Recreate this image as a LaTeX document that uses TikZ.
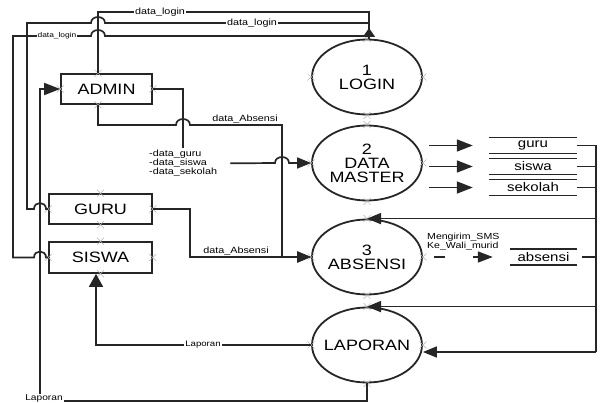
\documentclass[tikz,border=0pt]{standalone}
\usepackage{fontspec}
\newfontfamily\dfont[FakeStretch=1.2]{Liberation Sans}
\usetikzlibrary{shapes.geometric,arrows.meta}
\begin{document}
\begin{tikzpicture}[x=1pt,y=-1pt,
  proc/.style={ellipse,draw=black!85,line width=1.8pt,minimum width=110pt,minimum height=75pt,inner xsep=-10pt,inner ysep=0pt,align=center,font=\dfont\fontsize{15}{14}\selectfont},
  ent/.style={rectangle,draw=black!85,line width=1.7pt,minimum width=103pt,minimum height=30pt,inner sep=0pt,font=\dfont\fontsize{15}{15}\selectfont},
  store/.style={minimum width=88pt,minimum height=16pt,inner sep=0pt,font=\dfont\fontsize{12.5}{12.5}\selectfont},
  lbl/.style={fill=white,inner sep=1pt,font=\dfont\fontsize{9}{9}\selectfont},
  ln/.style={line width=1.7pt,draw=black!85},
  flow/.style={ln,-{Triangle[length=14pt,width=11pt]}},
  xm/.style={gray!60,line width=0.5pt},
]
\useasboundingbox (0,0) rectangle (602,403);

% processes
\node[proc] (LOGIN) at (367,77) {1\\LOGIN};
\node[proc] (DM) at (367,163) {2\\DATA\\MASTER};
\node[proc] (ABS) at (367,257) {3\\ABSENSI};
\node[proc] (LAP) at (367,345) {LAPORAN};

% entities
\node[ent,minimum width=91pt] (ADMIN) at (106.5,89) {ADMIN};
\node[ent] (GURU) at (100.5,209) {GURU};
\node[ent,minimum height=31pt] (SISWA) at (100.5,257.5) {SISWA};

% data stores
\node[store] (sguru) at (533,145.5) {guru};
\node[store] (ssiswa) at (533,166.5) {siswa};
\node[store] (ssek) at (533,187.5) {sekolah};
\node[store,minimum width=67pt] (sabs) at (543.5,257) {absensi};
\foreach \s in {sguru,ssiswa,ssek,sabs}
  \draw[line width=1.5pt,draw=black!85] (\s.north west) -- (\s.north east) (\s.south west) -- (\s.south east);

% connection marks
\foreach \p in {LOGIN.north,LOGIN.south,LOGIN.east,LOGIN.west,
                DM.north,DM.south,DM.east,DM.west,
                ABS.north,ABS.south,ABS.east,ABS.west,
                LAP.north,LAP.south,LAP.east,LAP.west,
                GURU.north,GURU.south,GURU.east,GURU.west,
                SISWA.north,SISWA.south,SISWA.east,SISWA.west,
                ADMIN.east,ADMIN.west}
  \draw[xm] (\p) +(-3.5,-3.5) -- +(3.5,3.5) +(-3.5,3.5) -- +(3.5,-3.5);
\draw[xm] ([xshift=-8.5pt]ADMIN.north) +(-3.5,-3.5) -- +(3.5,3.5) +(-3.5,3.5) -- +(3.5,-3.5);
\draw[xm] ([xshift=-8.5pt]ADMIN.south) +(-3.5,-3.5) -- +(3.5,3.5) +(-3.5,3.5) -- +(3.5,-3.5);

% data_login flows to LOGIN
\draw[ln] ([xshift=-8.5pt]ADMIN.north) -- (98,12) -- (369,12) -- ([xshift=2pt]LOGIN.north);
\node[lbl] at (160,12) {data\_login};
\draw[ln] (GURU.west) -- (46,209) .. controls (46,201) and (34,201) .. (34,209) -- (27,209) -- (27,23)
  -- (91,23) .. controls (91,15) and (105,15) .. (105,23) -- (369,23);
\node[lbl] at (252,23) {data\_login};
\draw[ln] (SISWA.west) -- (46,257.5) .. controls (46,249.5) and (34,249.5) .. (34,257.5) -- (13,257.5) -- (13,36)
  -- (91,36) .. controls (91,28) and (105,28) .. (105,36) -- (369,36);
\node[lbl,font=\dfont\fontsize{7}{7}\selectfont] at (57,36) {data\_login};
\coordinate (ltip) at (369,28);
\draw[ln,-{Triangle[length=9pt,width=12pt]}] ([xshift=2pt]LOGIN.north) -- (ltip);

% Laporan to ADMIN
\draw[ln,-{Triangle[length=16pt,width=12pt]}] (LAP.south) -- (367,401) -- (40,401) -- (40,89) -- (ADMIN.west);
\node[lbl,font=\dfont\fontsize{8.5}{8.5}\selectfont] at (44,398.5) {Laporan};

% Laporan to SISWA
\draw[ln,-{Triangle[length=13pt,width=14pt]}] (LAP.west) -- (96,345) -- ([xshift=-4.5pt]SISWA.south);
\node[lbl,font=\dfont\fontsize{8}{8}\selectfont] at (203,345) {Laporan};

% ADMIN -> DATA MASTER
\draw[ln] (ADMIN.east) -- (183,89) -- (183,148);
\node[align=left,anchor=north west,inner sep=0pt,font=\dfont\fontsize{9}{9}\selectfont] (dtext) at (149,150)
  {-data\_guru\\-data\_siswa\\-data\_sekolah};
\draw[flow] ([xshift=13pt]dtext.east) -- (275,163) .. controls (275,155) and (289,155) .. (289,163) -- (DM.west);

% ADMIN -> ABSENSI
\draw[flow] ([xshift=-8.5pt]ADMIN.south) -- (98,125) -- (176,125) .. controls (176,117) and (190,117) .. (190,125)
  -- (282,125) -- (282,257) -- (ABS.west);
\node[anchor=south,inner sep=1pt,font=\dfont\fontsize{9}{9}\selectfont] at (245,124) {data\_Absensi};

% GURU -> ABSENSI
\draw[flow] (GURU.east) -- (190,209) -- (190,257) -- (ABS.west);
\node[anchor=south,inner sep=1pt,font=\dfont\fontsize{9}{9}\selectfont] at (236,256.5) {data\_Absensi};

% DATA MASTER -> stores
\foreach \s in {sguru,ssiswa,ssek}
  \draw[flow,-{Triangle[length=16pt,width=12pt]}] ([xshift=6pt]DM.east |- \s.west) -- ([xshift=-16pt]\s.west);

% ABSENSI -> absensi store (dashed)
\draw[ln,-{Triangle[length=15pt,width=11pt]},dash pattern=on 11pt off 28pt on 80pt,shorten <=11pt,shorten >=17pt]
  (ABS.east) -- (sabs.west);
\node[align=left,anchor=west,inner sep=0pt,font=\dfont\fontsize{8.8}{9}\selectfont] at (427,241.5)
  {Mengirim\_SMS\\Ke\_Wali\_murid};

% store bus on the right
\coordinate (r1) at (596,145.5);
\coordinate (r4) at (596,352);
\draw[ln] (sguru.east) -- (r1);
\draw[ln] (ssiswa.east) -- (ssiswa.east -| r1);
\draw[ln] (ssek.east) -- (ssek.east -| r1);
\draw[ln] ([xshift=5pt]sabs.east) -- (sabs.east -| r1);
\draw[line width=2.6pt,draw=black!85] (r1) -- (r4);
\draw[flow] (r4) -- (LAP.east |- r4);
\draw[flow] (r1 |- ABS.north) -- (ABS.north);
\draw[flow] (r1 |- LAP.north) -- (LAP.north);
\end{tikzpicture}
\end{document}
